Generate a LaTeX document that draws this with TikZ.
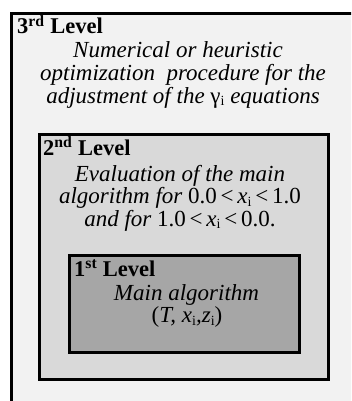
\documentclass[tikz,border=0pt]{standalone}
\usepackage{fontspec}
\setmainfont{Liberation Serif}
\definecolor{lvthree}{HTML}{F2F2F2}
\definecolor{lvtwo}{HTML}{D9D9D9}
\definecolor{lvone}{HTML}{A6A6A6}
\newcommand\lowi{\raisebox{-0.25ex}{\fontsize{14}{14}\selectfont\upshape i}}
\tikzset{
  lvbox/.style={draw=black, line width=3pt, anchor=north west, inner sep=0pt},
  lvtitle/.style={anchor=base west, inner sep=0pt, font=\bfseries\fontsize{22.5}{24}\selectfont},
  lvbody/.style={anchor=base, inner sep=0pt, font=\itshape\fontsize{23}{24}\selectfont},
}
\begin{document}
\begin{tikzpicture}[x=1pt,y=-1pt]
\useasboundingbox (0,0) rectangle (351,401);
\clip (0,0) rectangle (351,401);
\fill[white] (0,0) rectangle (351,401);
\node[lvbox, fill=lvthree, minimum width=360pt, minimum height=400pt] (l3) at (10,12.5) {};
\node[lvbox, fill=lvtwo, minimum width=289pt, minimum height=245pt] (l2) at (38,133) {};
\node[lvbox, fill=lvone, minimum width=230pt, minimum height=97pt] (l1) at (68,254) {};
\node[lvtitle] (t3) at (17,34) {3\textsuperscript{rd} Level};
\node[lvtitle] (t2) at (43,155.5) {2\textsuperscript{nd} Level};
\node[lvtitle] (t1) at (74,276.5) {1\textsuperscript{st} Level};
\node[lvbody] (b3a) at (178,58) {Numerical or heuristic};
\node[lvbody] (b3b) at (183,80.5) {optimization\ \ procedure for the};
\node[lvbody] (b3c) at (183,103) {adjustment of the {\upshape γ}\lowi\ equations};
\node[lvbody] (b2a) at (180,181) {Evaluation of the main};
\node[lvbody] (b2b) at (180,203.5) {algorithm for {\upshape 0.0\,<}\,\textit{x}\lowi\,{\upshape<\,1.0}};
\node[lvbody] (b2c) at (180,226) {and for {\upshape 1.0\,<}\,\textit{x}\lowi\,{\upshape<\,0.0.}};
\node[lvbody] (b1a) at (186.5,300) {Main algorithm};
\node[lvbody] (b1b) at (187,322.5) {{\upshape(}\textit{T}, \textit{x}\lowi,\textit{z}\lowi{\upshape)}};
\end{tikzpicture}
\end{document}
